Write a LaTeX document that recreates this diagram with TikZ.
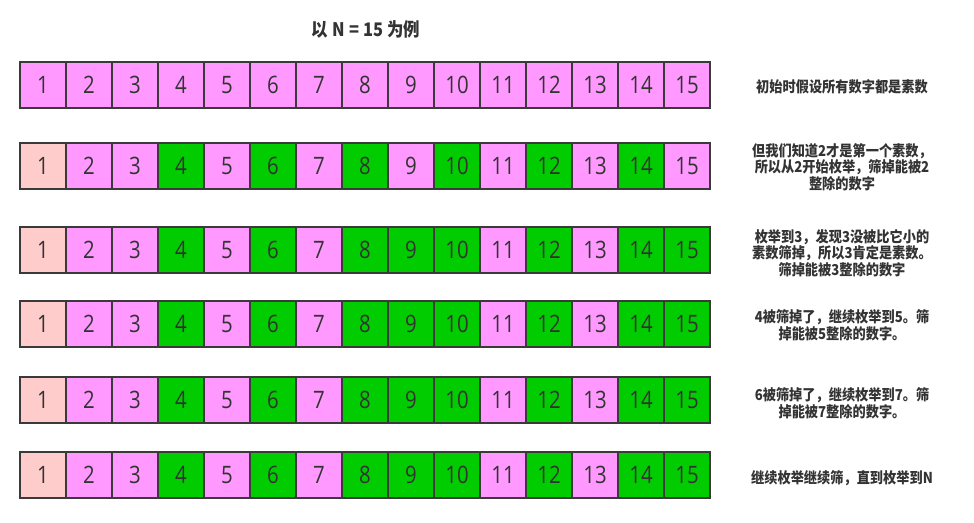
\documentclass[tikz,border=0pt]{standalone}
\usepackage{fontspec}
\setmainfont{Open Sans}
\newfontfamily\cjk{Noto Sans CJK SC}
\definecolor{colp}{HTML}{FF99FF}
\definecolor{colg}{HTML}{00CC00}
\definecolor{coll}{HTML}{FFCCCC}
\definecolor{edge}{HTML}{3A3A3A}
\definecolor{txt}{HTML}{333333}
\newcommand\hsq[1]{\scalebox{0.88}[1]{#1}}
\newcommand\dsq[1]{\scalebox{0.85}[1]{#1}}
\newcommand\tsp{\hspace{3.5pt}}
\tikzset{
  cell/.style={draw=edge, line width=1.3pt, minimum width=46*0.75pt, minimum height=46*0.75pt,
    inner sep=0pt, text=txt, font=\fontsize{18}{20}\selectfont},
  note/.style={align=center, text=txt, inner sep=0pt,
    font=\cjk\bfseries\fontsize{11.25}{12.4}\selectfont},
  titlenode/.style={text=txt, inner sep=0pt, font=\cjk\bfseries\fontsize{14}{16}\selectfont}
}
\begin{document}
\begin{tikzpicture}[x=0.75pt,y=-0.75pt]
\useasboundingbox (0,0) rectangle (974,522);
\node[titlenode] (title) at (366,29) {\hsq{以\tsp N\tsp=\tsp 15\tsp 为例}};
\foreach \r/\ytop/\cols in {
  1/62/{p,p,p,p,p,p,p,p,p,p,p,p,p,p,p},
  2/143/{l,p,p,g,p,g,p,g,p,g,p,g,p,g,p},
  3/227/{l,p,p,g,p,g,p,g,g,g,p,g,p,g,g},
  4/301/{l,p,p,g,p,g,p,g,g,g,p,g,p,g,g},
  5/377/{l,p,p,g,p,g,p,g,g,g,p,g,p,g,g},
  6/452/{l,p,p,g,p,g,p,g,g,g,p,g,p,g,g}}{
  \foreach \c [count=\i] in \cols {
    \node[cell, fill=col\c] (r\r c\i) at ({20+46*(\i-1)+23},{\ytop+23}) {\dsq{\i}};
  }
}
\node[note] (t1) at (842,87) {\hsq{初始时假设所有数字都是素数}};
\node[note] (t2) at (842,167) {\hsq{但我们知道2才是第一个素数，}\\\hsq{所以从2开始枚举，筛掉能被2}\\\hsq{整除的数字}};
\node[note] (t3) at (842,253) {\hsq{枚举到3，发现3没被比它小的}\\\hsq{素数筛掉，所以3肯定是素数。}\\\hsq{筛掉能被3整除的数字}};
\node[note] (t4) at (842,325) {\hsq{4被筛掉了，继续枚举到5。筛}\\\hsq{掉能被5整除的数字。}};
\node[note] (t5) at (842,403) {\hsq{6被筛掉了，继续枚举到7。筛}\\\hsq{掉能被7整除的数字。}};
\node[note] (t6) at (842,478) {\hsq{继续枚举继续筛，直到枚举到N}};
\end{tikzpicture}
\end{document}
